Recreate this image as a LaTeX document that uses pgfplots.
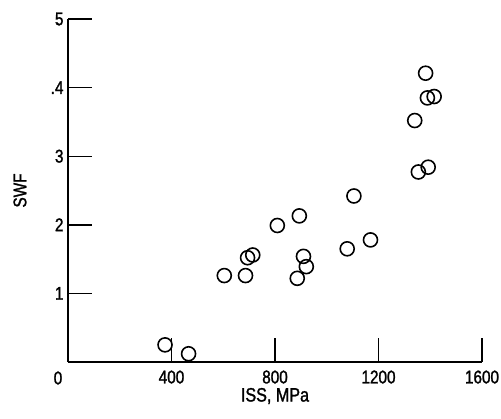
\documentclass[border=0pt]{standalone}
\usepackage{fontspec}
\setmainfont{Liberation Sans}[FakeStretch=0.83, FakeBold=1.4]
\usepackage{pgfplots}
\pgfplotsset{compat=1.18}

\begin{document}
\begin{tikzpicture}[x=1bp,y=1bp]
  \useasboundingbox (0,0) rectangle (501,418);
  \begin{axis}[
    at={(68bp,56bp)},
    anchor=south west,
    scale only axis,
    width=414bp,
    height=343bp,
    xmin=0, xmax=1600,
    ymin=0, ymax=5,
    axis x line=bottom,
    axis y line=left,
    axis line style={-, line width=1.4pt},
    every tick/.style={black, line width=1.4pt},
    tick align=inside,
    major tick length=24bp,
    xtick={400,800,1200,1600},
    ytick={1,2,3,4,5},
    yticklabels={1,2,3,.4,5},
    /pgf/number format/assume math mode=true,
    /pgf/number format/1000 sep={},
    tick label style={font=\fontsize{18.5}{20}\selectfont},
    xticklabel style={yshift=-5bp},
    yticklabel style={xshift=-1bp},
    clip=false,
  ]
    \addplot[only marks, mark=o, mark size=7bp, mark options={line width=1.6pt, black}]
      coordinates {
        (375,0.25) (466,0.12)
        (604,1.26) (686,1.26) (694,1.52) (714,1.56)
        (809,1.99) (894,2.13) (910,1.54) (921,1.39) (886,1.22)
        (1079,1.65) (1105,2.42) (1169,1.78)
        (1340,3.52) (1354,2.77) (1392,2.84)
        (1382,4.21) (1389,3.85) (1415,3.87)
      };
    \node[anchor=center, font=\fontsize{18.5}{20}\selectfont, xshift=-10bp, yshift=-16bp] at (axis cs:0,0) {0};
    \node[anchor=center, font=\fontsize{19.5}{21}\selectfont, yshift=-34bp] at (axis description cs:0.5,0) {ISS, MPa};
    \node[anchor=center, xshift=-48bp, rotate=90, font=\fontsize{18.5}{20}\selectfont] at (axis description cs:0,0.5) {SWF};
  \end{axis}
\end{tikzpicture}
\end{document}
